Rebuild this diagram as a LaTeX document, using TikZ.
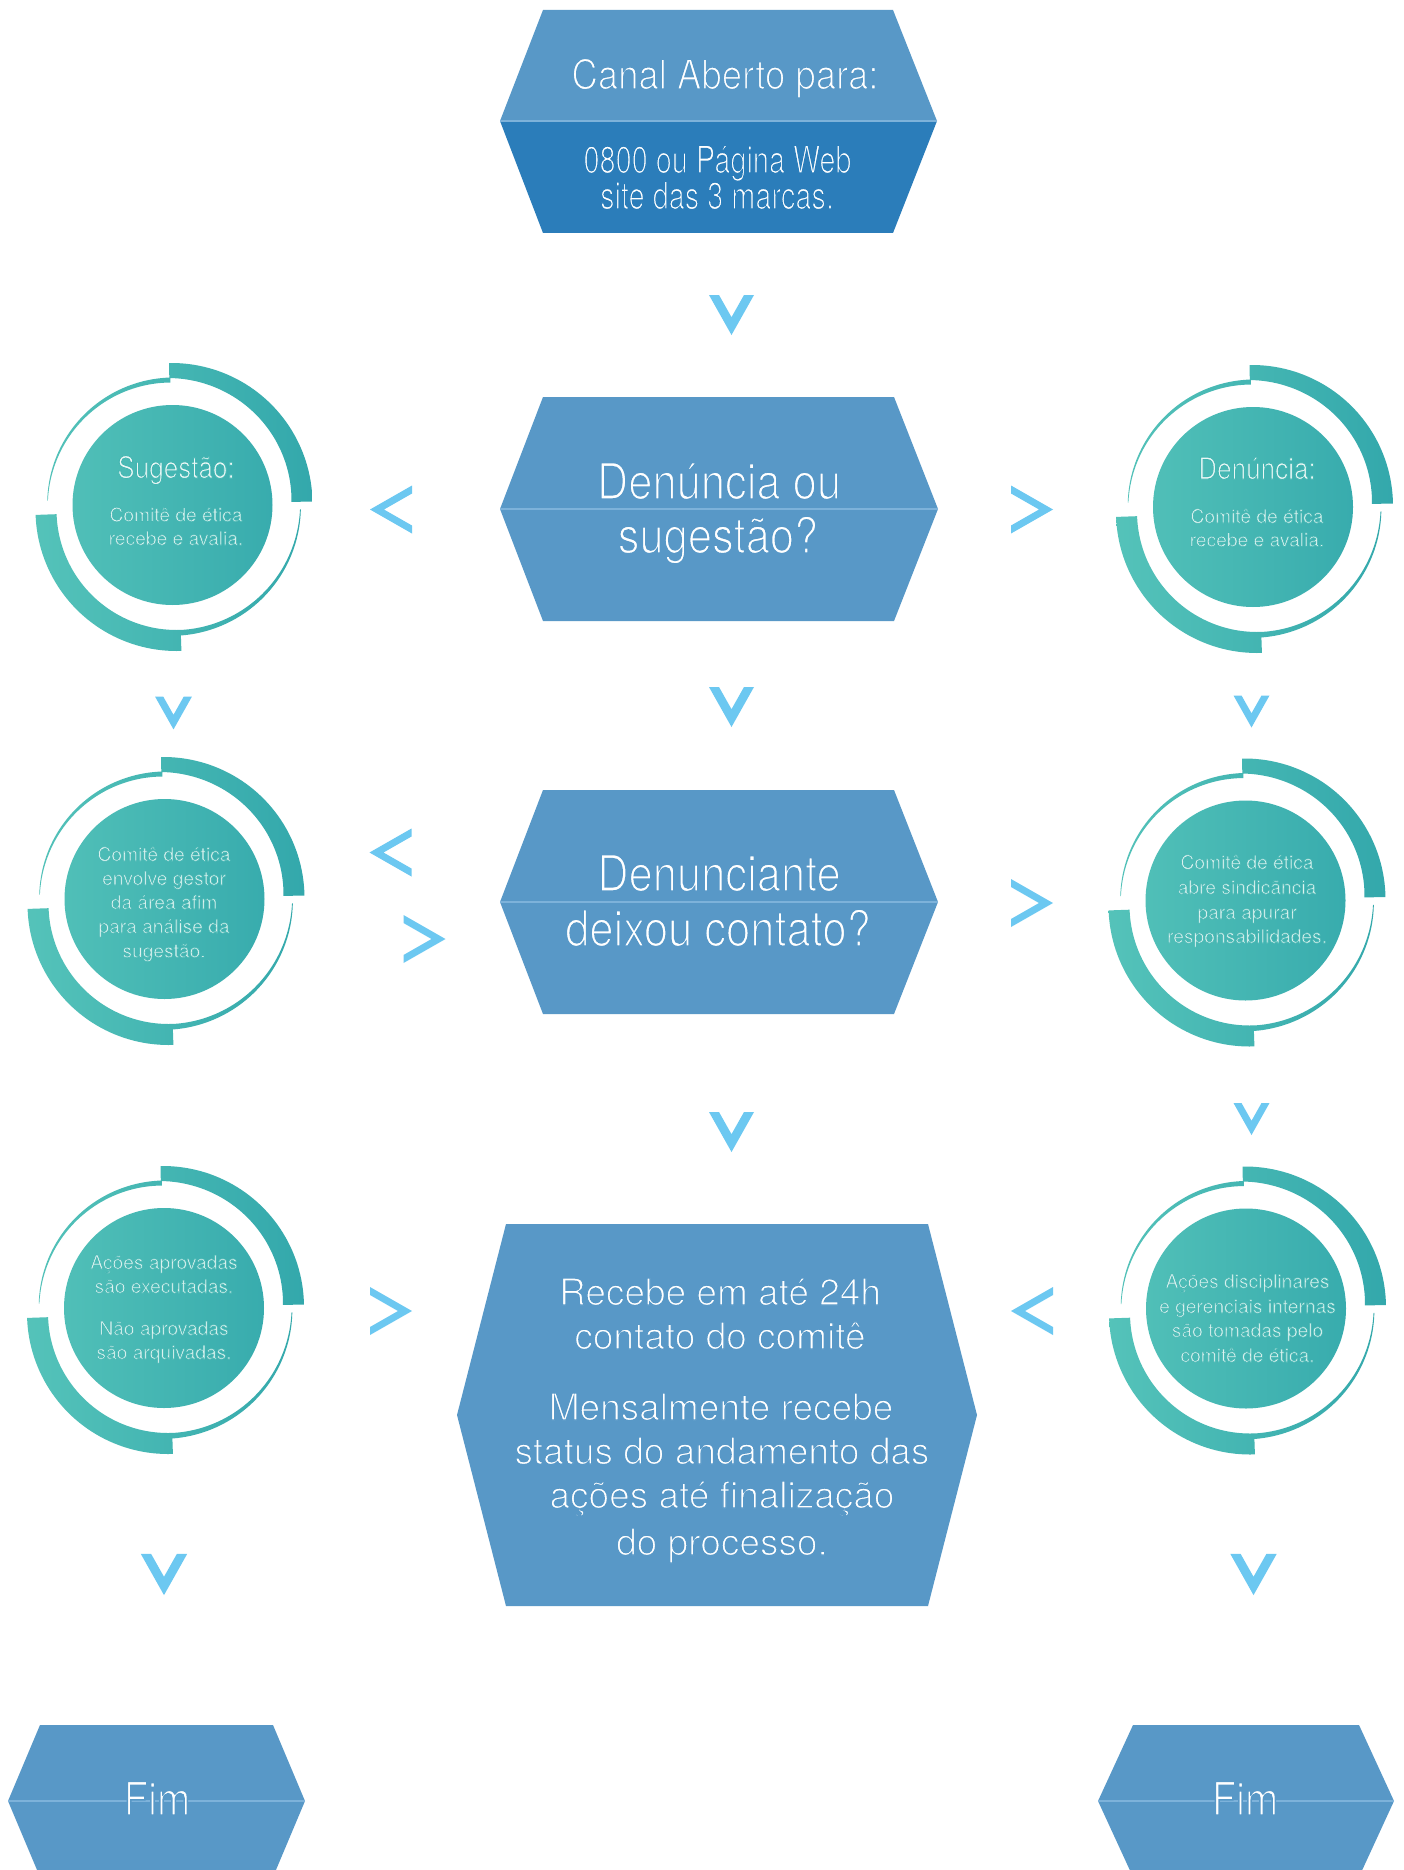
\documentclass[tikz,border=0pt]{standalone}
\usepackage{fontspec}
\setmainfont{TeX Gyre Heros}
\newfontfamily\hcA[FakeStretch=0.89]{TeX Gyre Heros}
\newfontfamily\hcB[FakeStretch=0.76]{TeX Gyre Heros}
\newfontfamily\hcC[FakeStretch=0.87]{TeX Gyre Heros}
\makeatletter
\newcommand\thinon[2]{\pgfsys@invoke{2 Tr #2 w #1 RG}}
\makeatother
\newcommand\tbl[1]{\thinon{0.345 0.596 0.780}{#1}}
\newcommand\tdk[1]{\thinon{0.169 0.490 0.729}{#1}}
\newcommand\ttl[1]{\thinon{0.267 0.712 0.700}{#1}}
\definecolor{hexblue}{RGB}{88,152,199}
\definecolor{hexdark}{RGB}{43,125,186}
\definecolor{hexline}{RGB}{125,178,218}
\definecolor{chev}{RGB}{108,200,241}
\definecolor{tealL}{RGB}{86,196,186}
\definecolor{tealR}{RGB}{50,167,171}
\definecolor{chead}{RGB}{236,248,246}
\definecolor{cbody}{RGB}{222,243,240}
\tikzset{
  midln/.style={draw=hexline, line width=1.2pt},
  lbl/.style={text=white, anchor=base, inner sep=0pt, outer sep=0pt},
  hA/.style={lbl, font=\hcA\fontsize{41}{41}\selectfont},
  hB/.style={lbl, font=\hcB\fontsize{38}{38}\selectfont},
  hC/.style={lbl, font=\hcC\fontsize{50}{50}\selectfont},
  hD/.style={lbl, font=\fontsize{37}{37}\selectfont},
  hF/.style={lbl, font=\hcC\fontsize{46}{46}\selectfont},
  chd/.style={lbl, text=chead, font=\hcC\fontsize{30}{30}\selectfont},
  cbd/.style={lbl, text=cbody, font=\fontsize{19.2}{19.2}\selectfont},
  chevV/.pic={\fill[chev] (-22.5,-20)--(-12.5,-20)--(0,2.2)--(12.5,-20)--(22.5,-20)--(0,20)--cycle;},
  chevL/.pic={\fill[chev] (-21,0)--(21,-24)--(21,-16)--(-7,0)--(21,16)--(21,24)--cycle;},
  chevR/.pic={\fill[chev] (21,0)--(-21,-24)--(-21,-16)--(7,0)--(-21,16)--(-21,24)--cycle;},
}
\newcommand\ringdisk[2]{%
  \begin{scope}
    \clip (#1,#2) circle[radius=100pt]
      plot[domain=1:91,samples=45] ({#1-1+141*cos(\x)},{#2-1-141*sin(\x)})
      -- plot[domain=91:1,samples=45] ({#1-1+(120+6*(\x-1)/90)*cos(\x)},{#2-1-(120+6*(\x-1)/90)*sin(\x)}) -- cycle
      plot[domain=182:272,samples=45] ({#1+4+141*cos(\x)},{#2+5-141*sin(\x)})
      -- plot[domain=272:182,samples=45] ({#1+4+120*cos(\x)},{#2+5-120*sin(\x)}) -- cycle
      plot[domain=91:178,samples=45] ({#1+(125+2.5-2.2*(\x-91)/87)*cos(\x)},{#2-(125+2.5-2.2*(\x-91)/87)*sin(\x)})
      -- plot[domain=178:91,samples=45] ({#1+(125-2.5+2.2*(\x-91)/87)*cos(\x)},{#2-(125-2.5+2.2*(\x-91)/87)*sin(\x)}) -- cycle
      plot[domain=272:358,samples=45] ({#1+(128+2.8-2.4*(\x-272)/86)*cos(\x)},{#2-(128+2.8-2.4*(\x-272)/86)*sin(\x)})
      -- plot[domain=358:272,samples=45] ({#1+(128-2.8+2.4*(\x-272)/86)*cos(\x)},{#2-(128-2.8+2.4*(\x-272)/86)*sin(\x)}) -- cycle;
    \shade[left color=tealL,right color=tealR] (#1-150,#2-155) rectangle (#1+150,#2+155);
  \end{scope}}
\begin{document}
\begin{tikzpicture}[x=1pt,y=-1pt]
\useasboundingbox[fill=white] (0,0) rectangle (1403,1870);

% ---------- hexagon 1
\fill[hexblue] (543,10)--(893,10)--(937,121)--(500,121)--cycle;
\fill[hexdark] (500,121)--(937,121)--(893,233)--(543,233)--cycle;
\draw[midln] (500,121)--(937,121);
\node[hA] (h1a) at (725,89) {\tbl{1.3}Canal Aberto para:};
\node[hB] (h1b) at (717.5,173) {\tdk{1.2}0800 ou Página Web};
\node[hB] (h1c) at (717,209) {\tdk{1.2}site das 3 marcas.};

% ---------- hexagon 2
\fill[hexblue] (543,397)--(894,397)--(938,509)--(894,621)--(543,621)--(500,509)--cycle;
\draw[midln] (500,509)--(938,509);
\node[hC] (h2a) at (719,499) {\tbl{1.5}Denúncia ou};
\node[hC] (h2b) at (718,553) {\tbl{1.5}sugestão?};

% ---------- hexagon 3
\fill[hexblue] (543,790)--(894,790)--(938,902)--(894,1014)--(543,1014)--(500,902)--cycle;
\draw[midln] (500,902)--(938,902);
\node[hC] (h3a) at (719,891) {\tbl{1.5}Denunciante};
\node[hC] (h3b) at (718,946) {\tbl{1.5}deixou contato?};

% ---------- hexagon 4
\fill[hexblue] (506,1224)--(928,1224)--(977,1415)--(928,1606)--(506,1606)--(457,1415)--cycle;
\node[hD] (h4a) at (720,1305) {\tbl{1.25}Recebe em até 24h};
\node[hD] (h4b) at (720,1349) {\tbl{1.25}contato do comitê};
\node[hD] (h4c) at (721,1420) {\tbl{1.25}Mensalmente recebe};
\node[hD] (h4d) at (722,1464) {\tbl{1.25}status do andamento das};
\node[hD] (h4e) at (722,1508) {\tbl{1.25}ações até finalização};
\node[hD] (h4f) at (722,1555) {\tbl{1.25}do processo.};

% ---------- Fim hexagons
\fill[hexblue] (40,1725)--(273,1725)--(305,1801)--(273,1877)--(40,1877)--(8,1801)--cycle;
\draw[midln] (8,1801)--(305,1801);
\node[hF] (fimL) at (157,1815) {\tbl{1.5}Fim};
\fill[hexblue] (1133,1725)--(1359,1725)--(1394,1801)--(1359,1877)--(1133,1877)--(1098,1801)--cycle;
\draw[midln] (1098,1801)--(1394,1801);
\node[hF] (fimR) at (1245,1815) {\tbl{1.5}Fim};

% ---------- circles
\ringdisk{172.5}{505}
\node[chd] (c1h) at (176,478) {\ttl{0.9}Sugestão:};
\node[cbd] (c1a) at (176,521.5) {\ttl{0.55}Comitê de ética};
\node[cbd] (c1b) at (176,545) {\ttl{0.55}recebe e avalia.};

\ringdisk{1253}{507}
\node[chd] (c2h) at (1257,479) {\ttl{0.9}Denúncia:};
\node[cbd] (c2a) at (1257,523) {\ttl{0.55}Comitê de ética};
\node[cbd] (c2b) at (1257,546.5) {\ttl{0.55}recebe e avalia.};

\ringdisk{164.5}{899}
\node[cbd] (c3a) at (164,861) {\ttl{0.55}Comitê de ética};
\node[cbd] (c3b) at (164,885) {\ttl{0.55}envolve gestor};
\node[cbd] (c3c) at (164,909) {\ttl{0.55}da área afim};
\node[cbd] (c3d) at (164,933) {\ttl{0.55}para análise da};
\node[cbd] (c3e) at (164,957.5) {\ttl{0.55}sugestão.};

\ringdisk{1245.5}{900.5}
\node[cbd] (c4a) at (1247,869) {\ttl{0.55}Comitê de ética};
\node[cbd] (c4b) at (1247,894) {\ttl{0.55}abre sindicãncia};
\node[cbd] (c4c) at (1247,919) {\ttl{0.55}para apurar};
\node[cbd] (c4d) at (1247,943) {\ttl{0.55}responsabilidades.};

\ringdisk{164}{1308}
\node[cbd] (c5a) at (164,1269) {\ttl{0.55}Ações aprovadas};
\node[cbd] (c5b) at (164,1293) {\ttl{0.55}são executadas.};
\node[cbd] (c5c) at (164,1335) {\ttl{0.55}Não aprovadas};
\node[cbd] (c5d) at (164,1359) {\ttl{0.55}são arquivadas.};

\ringdisk{1246}{1308.5}
\node[cbd] (c6a) at (1247.5,1288) {\ttl{0.55}Ações disciplinares};
\node[cbd] (c6b) at (1247.5,1313) {\ttl{0.55}e gerenciais internas};
\node[cbd] (c6c) at (1247.5,1337) {\ttl{0.55}são tomadas pelo};
\node[cbd] (c6d) at (1247.5,1362) {\ttl{0.55}comitê de ética.};

% ---------- chevrons
\pic at (731.5,315) {chevV};
\pic at (391,509.5) {chevL};
\pic at (1032,509.5) {chevR};
\pic[scale=0.82] at (173.5,713) {chevV};
\pic at (731.5,707) {chevV};
\pic[scale=0.8] at (1251.5,711.5) {chevV};
\pic at (390.5,852.5) {chevL};
\pic at (424.5,939) {chevR};
\pic at (1032,903) {chevR};
\pic at (731.5,1132) {chevV};
\pic[scale=0.8] at (1251.5,1119) {chevV};
\pic at (391,1311) {chevR};
\pic at (1032,1311) {chevL};
\pic[scale=1.03] at (164,1574.5) {chevV};
\pic[scale=1.03] at (1253.5,1574.5) {chevV};
\end{tikzpicture}
\end{document}
